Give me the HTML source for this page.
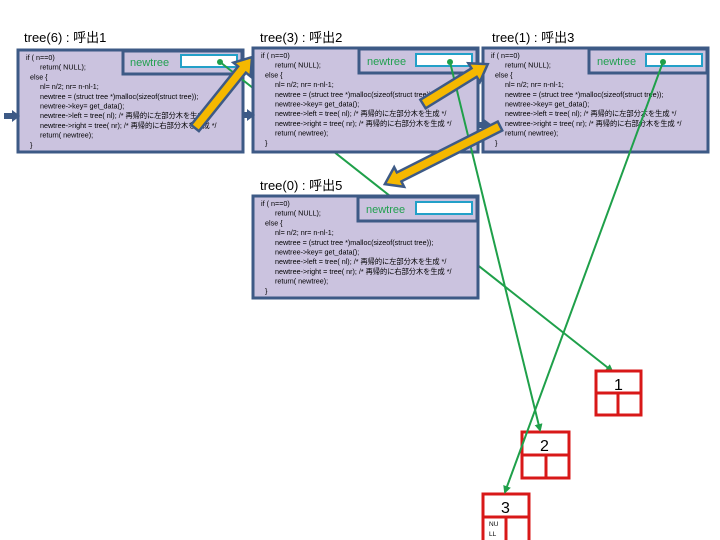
<!DOCTYPE html>
<html><head><meta charset="utf-8"><style>
html,body{margin:0;padding:0;background:#fff;}
svg{display:block;}
.t{font-family:"Liberation Sans","Noto Sans CJK JP",sans-serif;font-size:13px;fill:#000;}
.c{font-family:"Liberation Sans","Noto Sans CJK JP",sans-serif;font-size:7.2px;fill:#000;}
.n{font-family:"Liberation Sans",sans-serif;font-size:11px;fill:#22a050;}
</style></head><body>
<svg width="720" height="540" viewBox="0 0 720 540" xmlns="http://www.w3.org/2000/svg">
<defs>
<g id="code">
<text class="c" x="8" y="10">if ( n==0)</text>
<text class="c" x="22" y="19.7">return( NULL);</text>
<text class="c" x="12" y="29.4">else {</text>
<text class="c" x="22" y="39.1">nl= n/2;  nr= n-nl-1;</text>
<text class="c" x="22" y="48.8">newtree = (struct tree *)malloc(sizeof(struct tree));</text>
<text class="c" x="22" y="58.5">newtree-&gt;key= get_data();</text>
<text class="c" x="22" y="68.2">newtree-&gt;left = tree( nl);  /* 再帰的に左部分木を生成 */</text>
<text class="c" x="22" y="77.9">newtree-&gt;right = tree( nr); /* 再帰的に右部分木を生成 */</text>
<text class="c" x="22" y="87.6">return( newtree);</text>
<text class="c" x="12" y="97.3">}</text>
</g>
<marker id="ga" markerWidth="8" markerHeight="8" refX="6" refY="4" orient="auto" markerUnits="userSpaceOnUse"><path d="M0,0 L8,4 L0,8 z" fill="#1fa04a"/></marker>
</defs>

<text class="t" x="24" y="42">tree(6) : 呼出1</text>
<text class="t" x="260" y="42">tree(3) : 呼出2</text>
<text class="t" x="492" y="42">tree(1) : 呼出3</text>
<text class="t" x="260" y="190">tree(0) : 呼出5</text>

<g transform="translate(18,50)">
<rect x="0" y="0" width="225" height="102" fill="#cbc3df" stroke="#3d5a86" stroke-width="3"/>
<use href="#code"/>
<rect x="105" y="1" width="119" height="23" fill="#cbc3df" stroke="#3d5a86" stroke-width="3"/>
<text class="n" x="112" y="16">newtree</text>
<rect x="163" y="5" width="56" height="12" fill="#fff" stroke="#23a0c8" stroke-width="2"/>
</g>
<line x1="220" y1="62" x2="612" y2="371" stroke="#1fa04a" stroke-width="2" marker-end="url(#ga)"/>
<g transform="translate(253,48)">
<rect x="0" y="0" width="225" height="104" fill="#cbc3df" stroke="#3d5a86" stroke-width="3"/>
<use href="#code"/>
<rect x="106" y="1" width="118" height="24" fill="#cbc3df" stroke="#3d5a86" stroke-width="3"/>
<text class="n" x="114" y="17">newtree</text>
<rect x="163" y="6" width="56" height="12" fill="#fff" stroke="#23a0c8" stroke-width="2"/>
</g>
<g transform="translate(483,48)">
<rect x="0" y="0" width="225" height="104" fill="#cbc3df" stroke="#3d5a86" stroke-width="3"/>
<use href="#code"/>
<rect x="106" y="1" width="118" height="24" fill="#cbc3df" stroke="#3d5a86" stroke-width="3"/>
<text class="n" x="114" y="17">newtree</text>
<rect x="163" y="6" width="56" height="12" fill="#fff" stroke="#23a0c8" stroke-width="2"/>
</g>
<g transform="translate(253,196)">
<rect x="0" y="0" width="225" height="102" fill="#cbc3df" stroke="#3d5a86" stroke-width="3"/>
<use href="#code"/>
<rect x="105" y="1" width="119" height="24" fill="#cbc3df" stroke="#3d5a86" stroke-width="3"/>
<text class="n" x="113" y="17">newtree</text>
<rect x="163" y="6" width="56" height="12" fill="#fff" stroke="#23a0c8" stroke-width="2"/>
</g>

<g fill="#3d5a86">
<rect x="4" y="113" width="9" height="6"/><path d="M12,110 L20,116 L12,122 z"/>
<rect x="242" y="112" width="6" height="6"/><path d="M247,109 L255,115 L247,121 z"/>
<rect x="477" y="122" width="8" height="6"/><path d="M484,119 L492,125 L484,131 z"/>
</g>

<g fill="#fff" stroke="#d81818" stroke-width="3">
<rect x="596" y="371" width="45" height="44"/><line x1="596" y1="393" x2="641" y2="393"/><line x1="618" y1="393" x2="618" y2="415"/>
<rect x="522" y="432" width="47" height="46"/><line x1="522" y1="455" x2="569" y2="455"/><line x1="546" y1="455" x2="546" y2="478"/>
<rect x="483" y="494" width="46" height="48"/><line x1="483" y1="517" x2="529" y2="517"/><line x1="506" y1="517" x2="506" y2="542"/>
</g>
<text class="t" x="614" y="390" style="font-size:16px">1</text>
<text class="t" x="540" y="451" style="font-size:16px">2</text>
<text class="t" x="501" y="513" style="font-size:16px">3</text>
<text class="c" x="489" y="526" style="font-size:6.5px">NU</text>
<text class="c" x="489" y="536" style="font-size:6.5px">LL</text>

<g stroke="#1fa04a" stroke-width="2" fill="none">
<line x1="450" y1="62" x2="540" y2="430" marker-end="url(#ga)"/>
<line x1="663" y1="62" x2="505" y2="492" marker-end="url(#ga)"/>
</g>
<g fill="#1fa04a"><circle cx="220" cy="62" r="3"/><circle cx="450" cy="62" r="3"/><circle cx="663" cy="62" r="3"/></g>

<g fill="#f5b800" stroke="#3d5a86" stroke-width="2.5" stroke-linejoin="miter">
<path transform="translate(195,128) rotate(-51.2)" d="M0,-5 L75,-5 L75,-11 L91,0 L75,11 L75,5 L0,5 z"/>
<path transform="translate(423,104) rotate(-31.6)" d="M0,-5 L60,-5 L60,-11 L76,0 L60,11 L60,5 L0,5 z"/>
<path transform="translate(500,126) rotate(153.2)" d="M0,-5 L113,-5 L113,-11 L129,0 L113,11 L113,5 L0,5 z"/>
</g>
</svg>
</body></html>
